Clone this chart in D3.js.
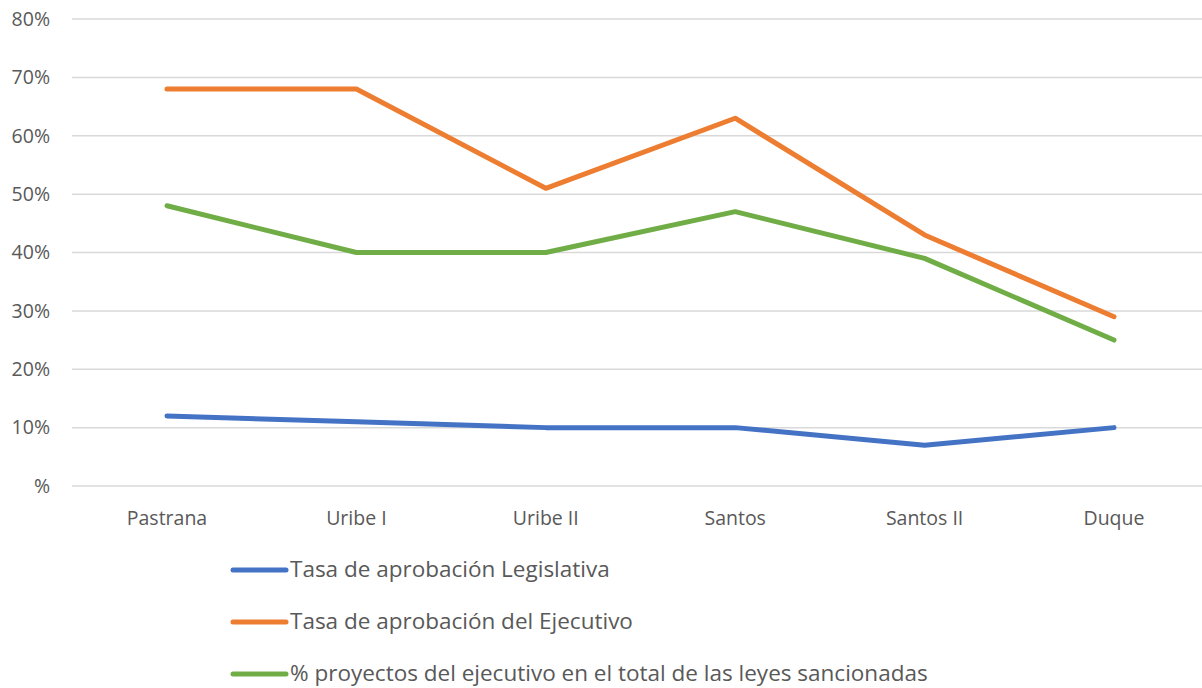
<!DOCTYPE html>
<html><head><meta charset="utf-8">
<script src="https://cdn.jsdelivr.net/npm/d3@7/dist/d3.min.js"></script>
<style>body{margin:0;background:#fff}svg{display:block}</style>
</head><body>
<svg id="c" width="1202" height="688"></svg>
<script>
const categories = ["Pastrana","Uribe I","Uribe II","Santos","Santos II","Duque"];
const legislativa = [12,11,10,10,7,10];
const ejecutivo = [68,68,51,63,43,29];
const proyectos = [48,40,40,47,39,25];
const seriesNames = ["Tasa de aprobación Legislativa","Tasa de aprobación del Ejecutivo","% proyectos del ejecutivo en el total de las leyes sancionadas"];
const colors = ["#4472C4","#ED7D31","#70AD47"];
const yTicks = [0,10,20,30,40,50,60,70,80];
const series = [legislativa, ejecutivo, proyectos];

const svg = d3.select("#c");
const font = "'Open Sans', 'Noto Sans', sans-serif";
const x = d3.scalePoint().domain(categories).range([167,1114]);
const y = d3.scaleLinear().domain([0,80]).range([486,19]);

const grid = svg.append("g");
grid.selectAll("line").data(yTicks).join("line")
  .attr("x1",72).attr("x2",1202)
  .attr("y1",d=>y(d)).attr("y2",d=>y(d))
  .attr("stroke","#d9d9d9").attr("stroke-width",1.5);

svg.append("g").selectAll("text").data(yTicks).join("text")
  .attr("x",50).attr("y",d=>y(d)).attr("dy","0.35em")
  .attr("text-anchor","end").attr("font-family",font).attr("font-size",19.5)
  .attr("fill","#595959").text(d=> d===0 ? "%" : d+"%");

svg.append("g").selectAll("text").data(categories).join("text")
  .attr("x",d=>x(d)).attr("y",518).attr("dy","0.35em")
  .attr("text-anchor","middle").attr("font-family",font).attr("font-size",19.5)
  .attr("fill","#595959").text(d=>d);

const line = d3.line().x((d,i)=>x(categories[i])).y(d=>y(d));
svg.append("g").selectAll("path").data(series).join("path")
  .attr("d",d=>line(d)).attr("fill","none")
  .attr("stroke",(d,i)=>colors[i]).attr("stroke-width",5)
  .attr("stroke-linecap","round").attr("stroke-linejoin","round");

const lg = svg.append("g").selectAll("g").data(seriesNames).join("g")
  .attr("transform",(d,i)=>`translate(0,${570+i*52})`);
lg.append("line").attr("x1",233).attr("x2",286).attr("y1",0).attr("y2",0)
  .attr("stroke",(d,i)=>colors[i]).attr("stroke-width",5).attr("stroke-linecap","round");
lg.append("text").attr("x",290).attr("y",0).attr("dy","0.3em")
  .attr("font-family",font).attr("font-size",22.5).attr("fill","#595959").text(d=>d);
</script>
</body></html>
